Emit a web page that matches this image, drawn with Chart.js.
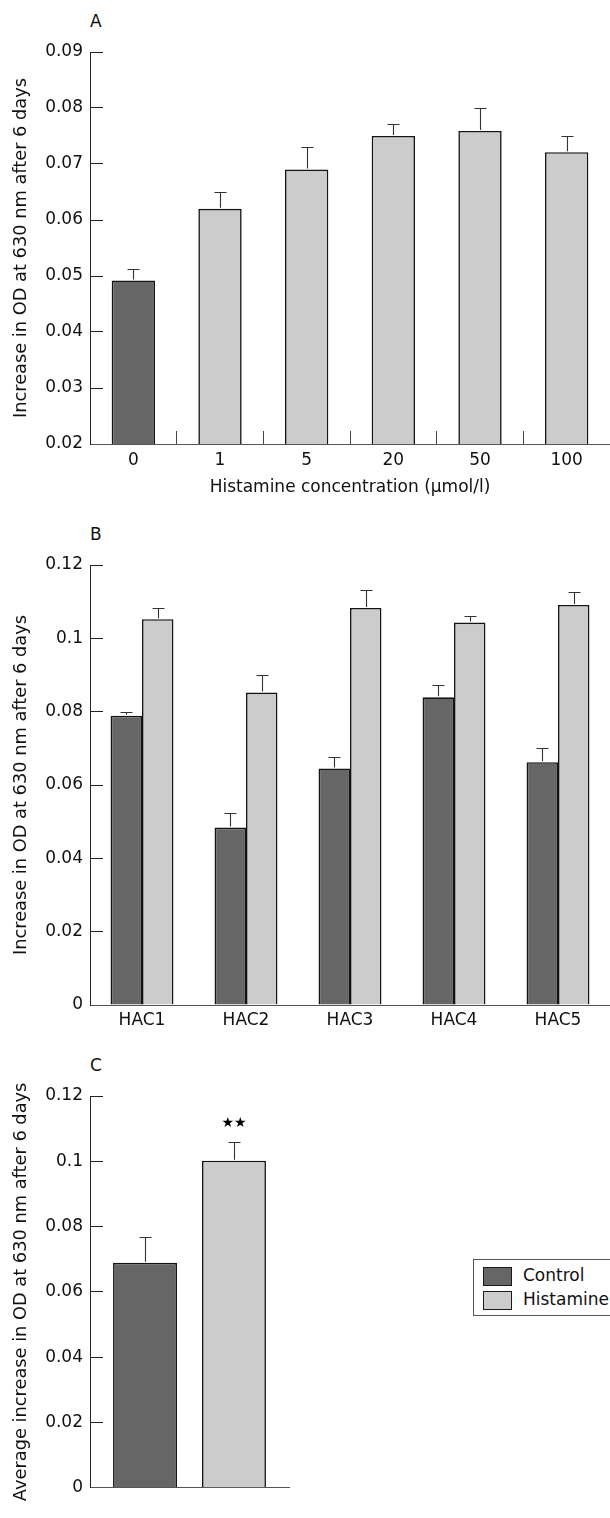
<!DOCTYPE html>
<html>
<head>
<meta charset="utf-8">
<script src="https://cdn.jsdelivr.net/npm/chart.js@4.4.1/dist/chart.umd.min.js"></script>
<style>
html,body{margin:0;padding:0;background:#fff;}
body{width:610px;height:1518px;position:relative;overflow:hidden;font-family:"DejaVu Sans",sans-serif;color:#111;}
canvas{position:absolute;left:0;}
.panel{position:absolute;left:90px;font-size:17px;line-height:20px;}
#legend{position:absolute;left:473px;top:1259px;width:145px;height:57px;border:1px solid #555;box-sizing:border-box;background:#fff;}
.li{position:absolute;left:9px;height:19px;font-size:17px;line-height:19px;}
.sw{position:absolute;left:0;top:0;width:29px;height:19px;border:1.6px solid #1a1a1a;box-sizing:border-box;}
.tx{position:absolute;left:40px;top:-1px;white-space:nowrap;}
</style>
</head>
<body>
<div class="panel" style="top:11px">A</div>
<div class="panel" style="top:524px">B</div>
<div class="panel" style="top:1055px">C</div>
<canvas id="cA" width="610" height="500" style="top:0px"></canvas>
<canvas id="cB" width="610" height="540" style="top:500px"></canvas>
<canvas id="cC" width="610" height="478" style="top:1040px"></canvas>
<div id="legend"></div>
<script>
// ---------------- data ----------------
const seriesNames = ['Control', 'Histamine'];

// Panel A
const catsA = ['0', '1', '5', '20', '50', '100'];
const groupA = ['Control', 'Histamine', 'Histamine', 'Histamine', 'Histamine', 'Histamine'];
const valsA = [0.0492, 0.0620, 0.0690, 0.0750, 0.0759, 0.0721];
const semA  = [0.0021, 0.0030, 0.0041, 0.0021, 0.0041, 0.0029];
const tickValsA = [0.02, 0.03, 0.04, 0.05, 0.06, 0.07, 0.08, 0.09];
const tickLabelsA = ['0.02', '0.03', '0.04', '0.05', '0.06', '0.07', '0.08', '0.09'];

// Panel B
const catsB = ['HAC1', 'HAC2', 'HAC3', 'HAC4', 'HAC5'];
const ctrlB    = [0.0789, 0.0484, 0.0645, 0.0839, 0.0662];
const semCtrlB = [0.0011, 0.0039, 0.0032, 0.0033, 0.0039];
const histB    = [0.1052, 0.0852, 0.1083, 0.1043, 0.1091];
const semHistB = [0.0031, 0.0049, 0.0048, 0.0017, 0.0034];
const tickValsB = [0, 0.02, 0.04, 0.06, 0.08, 0.1, 0.12];
const tickLabelsB = ['0', '0.02', '0.04', '0.06', '0.08', '0.1', '0.12'];

// Panel C
const catsC = [''];
const ctrlC    = [0.0689];
const semCtrlC = [0.0078];
const histC    = [0.1002];
const semHistC = [0.0057];
const sigHistC = ['★★'];
const tickValsC = [0, 0.02, 0.04, 0.06, 0.08, 0.1, 0.12];
const tickLabelsC = ['0', '0.02', '0.04', '0.06', '0.08', '0.1', '0.12'];

// ---------------- style ----------------
const FONT = '"DejaVu Sans", sans-serif';
const fill = { Control: '#666666', Histamine: '#cccccc' };
const EDGE = '#141414';
const BW = 1.6;

const errorBars = {
  id: 'errorBars',
  afterDatasetsDraw(chart) {
    const ctx = chart.ctx, ys = chart.scales.y;
    chart.data.datasets.forEach((ds, i) => {
      if (!ds.sem) return;
      const meta = chart.getDatasetMeta(i);
      meta.data.forEach((el, j) => {
        const v = ds.data[j], e = ds.sem[j];
        const yTop = Math.round(ys.getPixelForValue(v + e)) + 0.5;
        const x = Math.round(el.x) + 0.5;
        ctx.save();
        ctx.strokeStyle = '#333';
        ctx.lineWidth = 1.1;
        ctx.beginPath();
        ctx.moveTo(x, el.y - 1);
        ctx.lineTo(x, yTop);
        ctx.moveTo(x - 6, yTop);
        ctx.lineTo(x + 6, yTop);
        ctx.stroke();
        if (ds.sig && ds.sig[j]) {
          ctx.fillStyle = '#000';
          ctx.font = '14px ' + FONT;
          ctx.textAlign = 'center';
          ctx.textBaseline = 'middle';
          ctx.fillText(ds.sig[j], el.x, yTop - 19);
        }
        ctx.restore();
      });
    });
  }
};

function yAxis(vals, labels, title) {
  return {
    type: 'linear',
    min: vals[0], max: vals[vals.length - 1],
    afterBuildTicks: s => { s.ticks = vals.map(v => ({ value: v })); },
    afterFit: s => { s.width = 90; },
    border: { display: true, color: '#222', width: 1 },
    grid: { drawOnChartArea: false, drawTicks: true, tickLength: -13, color: '#222', lineWidth: 1 },
    ticks: { padding: 20, color: '#111', font: { family: FONT, size: 17 },
             callback: (v, i) => labels[i] },
    title: { display: true, text: title, color: '#111', font: { family: FONT, size: 17.8 },
             padding: { top: 11, bottom: 0 } }
  };
}

function baseOpts(padding, scales) {
  return {
    responsive: false, animation: false, devicePixelRatio: 1,
    layout: { padding },
    plugins: { legend: { display: false }, tooltip: { enabled: false } },
    scales
  };
}

// ---------------- Panel A ----------------
new Chart(document.getElementById('cA'), {
  type: 'bar',
  data: {
    labels: catsA,
    datasets: [{
      label: 'A', data: valsA, sem: semA,
      backgroundColor: groupA.map(g => fill[g]),
      borderColor: EDGE, borderWidth: BW,
      barPercentage: 0.5, categoryPercentage: 1.0
    }]
  },
  options: baseOpts({ top: 52, left: 0, right: 0, bottom: 0 }, {
    x: {
      afterFit: s => { s.height = 56; },
      border: { display: true, color: '#555', width: 1 },
      grid: { offset: true, drawOnChartArea: false, drawTicks: true, tickLength: -13,
              color: c => (c.index === undefined || c.index === 0) ? 'rgba(0,0,0,0)' : '#444' },
      ticks: { padding: 19, color: '#111', font: { family: FONT, size: 17 } },
      title: { display: true, text: 'Histamine concentration (µmol/l)', color: '#111',
               font: { family: FONT, size: 17 }, padding: { top: 0, bottom: 2 } }
    },
    y: yAxis(tickValsA, tickLabelsA, 'Increase in OD at 630 nm after 6 days')
  }),
  plugins: [errorBars]
});

// ---------------- Panel B ----------------
new Chart(document.getElementById('cB'), {
  type: 'bar',
  data: {
    labels: catsB,
    datasets: [
      { label: seriesNames[0], data: ctrlB, sem: semCtrlB, backgroundColor: fill.Control,
        borderColor: EDGE, borderWidth: BW, barPercentage: 1.0, categoryPercentage: 0.605 },
      { label: seriesNames[1], data: histB, sem: semHistB, backgroundColor: fill.Histamine,
        borderColor: EDGE, borderWidth: BW, barPercentage: 1.0, categoryPercentage: 0.605 }
    ]
  },
  options: baseOpts({ top: 65, left: 0, right: 0, bottom: 0 }, {
    x: {
      afterFit: s => { s.height = 35; },
      border: { display: true, color: '#555', width: 1 },
      grid: { display: false, drawTicks: false },
      ticks: { padding: 5, color: '#111', font: { family: FONT, size: 17 } }
    },
    y: yAxis(tickValsB, tickLabelsB, 'Increase in OD at 630 nm after 6 days')
  }),
  plugins: [errorBars]
});

// ---------------- Panel C ----------------
const chartC = new Chart(document.getElementById('cC'), {
  type: 'bar',
  data: {
    labels: catsC,
    datasets: [
      { label: seriesNames[0], data: ctrlC, sem: semCtrlC, backgroundColor: fill.Control,
        borderColor: EDGE, borderWidth: BW, barPercentage: 0.719, categoryPercentage: 0.894 },
      { label: seriesNames[1], data: histC, sem: semHistC, sig: sigHistC, backgroundColor: fill.Histamine,
        borderColor: EDGE, borderWidth: BW, barPercentage: 0.719, categoryPercentage: 0.894 }
    ]
  },
  options: baseOpts({ top: 56, left: 0, right: 321, bottom: 0 }, {
    x: {
      afterFit: s => { s.height = 5; },
      border: { display: true, color: '#555', width: 1 },
      grid: { display: false, drawTicks: false },
      ticks: { display: false }
    },
    y: yAxis(tickValsC, tickLabelsC, 'Average increase in OD at 630 nm after 6 days')
  }),
  plugins: [errorBars]
});

// ---------------- Legend (built from panel C datasets) ----------------
const leg = document.getElementById('legend');
chartC.data.datasets.forEach((ds, i) => {
  const item = document.createElement('div');
  item.className = 'li';
  item.style.top = (7 + i * 24) + 'px';
  const sw = document.createElement('div');
  sw.className = 'sw';
  sw.style.background = ds.backgroundColor;
  const tx = document.createElement('div');
  tx.className = 'tx';
  tx.textContent = ds.label;
  item.appendChild(sw); item.appendChild(tx);
  leg.appendChild(item);
});
</script>
</body>
</html>
